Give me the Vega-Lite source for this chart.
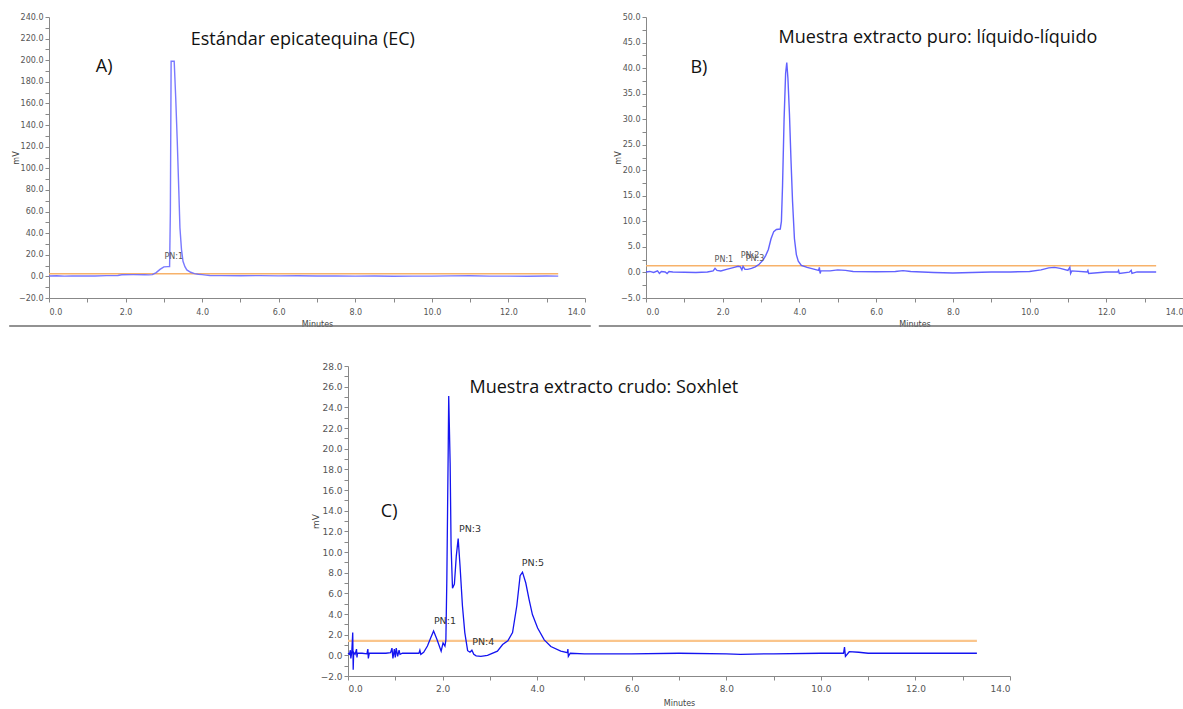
{
  "$schema": "https://vega.github.io/schema/vega-lite/v6.json",
  "background": "white",
  "padding": {"left": 8, "top": 13, "right": 0, "bottom": 0},
  "config": {
    "view": {"stroke": null},
    "axis": {
      "grid": false,
      "domainColor": "#888",
      "tickColor": "#888",
      "tickSize": 4,
      "labelColor": "#555",
      "labelFont": "DejaVu Sans",
      "labelFontSize": 8,
      "labelPadding": 2,
      "labelOverlap": false,
      "titleFont": "DejaVu Sans",
      "titleFontSize": 8,
      "titleFontWeight": "normal",
      "titleColor": "#444"
    }
  },
  "datasets": {
    "traceA": [
      {"t": 0, "v": 0.4}, {"t": 0.2, "v": 0.6}, {"t": 0.4, "v": 0.2}, {"t": 0.6, "v": 0.5}, {"t": 0.8, "v": 0.3},
      {"t": 1.0, "v": 0.5}, {"t": 1.2, "v": 0.4}, {"t": 1.5, "v": 0.7}, {"t": 1.8, "v": 0.8}, {"t": 1.9, "v": 1.5},
      {"t": 2.2, "v": 1.6}, {"t": 2.5, "v": 1.5}, {"t": 2.6, "v": 1.4}, {"t": 2.7, "v": 1.6}, {"t": 2.8, "v": 3.5},
      {"t": 2.9, "v": 6.5}, {"t": 3.0, "v": 8.8}, {"t": 3.1, "v": 9.0}, {"t": 3.15, "v": 9.0}, {"t": 3.17, "v": 60},
      {"t": 3.19, "v": 199}, {"t": 3.27, "v": 199}, {"t": 3.31, "v": 165}, {"t": 3.35, "v": 125}, {"t": 3.39, "v": 80},
      {"t": 3.42, "v": 45}, {"t": 3.46, "v": 25}, {"t": 3.5, "v": 14}, {"t": 3.55, "v": 9}, {"t": 3.6, "v": 6},
      {"t": 3.7, "v": 3.8}, {"t": 3.8, "v": 2.5}, {"t": 3.9, "v": 2.0}, {"t": 4.0, "v": 1.6}, {"t": 4.1, "v": 1.2},
      {"t": 4.2, "v": 0.8}, {"t": 4.5, "v": 0.7}, {"t": 5.0, "v": 0.6}, {"t": 5.5, "v": 0.7}, {"t": 6.0, "v": 0.5},
      {"t": 6.5, "v": 0.6}, {"t": 7.0, "v": 0.4}, {"t": 7.5, "v": 0.5}, {"t": 8.0, "v": 0.2}, {"t": 8.5, "v": 0.3},
      {"t": 9.0, "v": 0.1}, {"t": 9.5, "v": 0.2}, {"t": 10.0, "v": 0.2}, {"t": 10.5, "v": 0.5}, {"t": 11.0, "v": 0.6},
      {"t": 11.5, "v": 0.2}, {"t": 12.0, "v": 0.2}, {"t": 12.5, "v": 0.1}, {"t": 13.0, "v": 0.3}, {"t": 13.3, "v": 0.2}
    ],
    "traceB": [
      {"t": 0, "v": 0.1}, {"t": 0.1, "v": 0.2}, {"t": 0.2, "v": 0.0}, {"t": 0.3, "v": 0.3}, {"t": 0.35, "v": -0.2},
      {"t": 0.4, "v": 0.2}, {"t": 0.5, "v": 0.1}, {"t": 0.55, "v": -0.2}, {"t": 0.6, "v": 0.2}, {"t": 0.7, "v": 0.1},
      {"t": 1.0, "v": 0.05}, {"t": 1.3, "v": 0.0}, {"t": 1.6, "v": 0.1}, {"t": 1.75, "v": 0.3}, {"t": 1.8, "v": 0.8},
      {"t": 1.85, "v": 0.4}, {"t": 1.95, "v": 0.3}, {"t": 2.1, "v": 0.6}, {"t": 2.3, "v": 1.0}, {"t": 2.4, "v": 1.2},
      {"t": 2.46, "v": 1.1}, {"t": 2.5, "v": 0.5}, {"t": 2.53, "v": 1.2}, {"t": 2.58, "v": 0.6}, {"t": 2.65, "v": 0.6},
      {"t": 2.75, "v": 0.8}, {"t": 2.85, "v": 1.1}, {"t": 2.95, "v": 1.6}, {"t": 3.05, "v": 2.4}, {"t": 3.12, "v": 3.3},
      {"t": 3.19, "v": 4.5}, {"t": 3.26, "v": 6.6}, {"t": 3.33, "v": 8.0}, {"t": 3.4, "v": 8.4}, {"t": 3.5, "v": 8.5},
      {"t": 3.53, "v": 10}, {"t": 3.56, "v": 17}, {"t": 3.6, "v": 30}, {"t": 3.64, "v": 39}, {"t": 3.67, "v": 41.1},
      {"t": 3.7, "v": 38}, {"t": 3.74, "v": 31}, {"t": 3.78, "v": 22}, {"t": 3.82, "v": 14}, {"t": 3.87, "v": 6.6},
      {"t": 3.92, "v": 3.5}, {"t": 3.97, "v": 2.2}, {"t": 4.05, "v": 1.4}, {"t": 4.2, "v": 1.0}, {"t": 4.35, "v": 0.7},
      {"t": 4.5, "v": 0.4}, {"t": 4.52, "v": 1.0}, {"t": 4.54, "v": -0.2}, {"t": 4.56, "v": 0.3}, {"t": 4.8, "v": 0.3},
      {"t": 5.0, "v": 0.5}, {"t": 5.2, "v": 0.4}, {"t": 5.4, "v": 0.2}, {"t": 6.0, "v": 0.15}, {"t": 6.5, "v": 0.2},
      {"t": 6.7, "v": 0.35}, {"t": 6.9, "v": 0.2}, {"t": 7.5, "v": 0.0}, {"t": 8.0, "v": -0.1}, {"t": 8.5, "v": 0.0},
      {"t": 9.0, "v": 0.1}, {"t": 9.5, "v": 0.1}, {"t": 10.0, "v": 0.2}, {"t": 10.3, "v": 0.5}, {"t": 10.5, "v": 0.9},
      {"t": 10.65, "v": 1.0}, {"t": 10.8, "v": 0.8}, {"t": 11.0, "v": 0.4}, {"t": 11.05, "v": 1.0}, {"t": 11.07, "v": -0.2},
      {"t": 11.1, "v": 0.3}, {"t": 11.5, "v": 0.1}, {"t": 11.52, "v": 0.4}, {"t": 11.54, "v": -0.2}, {"t": 12.0, "v": 0.1},
      {"t": 12.3, "v": 0.1}, {"t": 12.32, "v": 0.4}, {"t": 12.34, "v": -0.2}, {"t": 12.6, "v": 0.05}, {"t": 12.65, "v": 0.4},
      {"t": 12.67, "v": -0.2}, {"t": 12.8, "v": 0.1}, {"t": 13.3, "v": 0.1}
    ],
    "traceC": [
      {"t": 0, "v": 0.2}, {"t": 0.03, "v": 0.1}, {"t": 0.05, "v": 0.5}, {"t": 0.06, "v": -0.3}, {"t": 0.08, "v": 0.3},
      {"t": 0.1, "v": 2.2}, {"t": 0.11, "v": -1.4}, {"t": 0.12, "v": 0.3}, {"t": 0.15, "v": 0.1}, {"t": 0.18, "v": 0.6},
      {"t": 0.19, "v": -0.2}, {"t": 0.2, "v": 0.2}, {"t": 0.3, "v": 0.2}, {"t": 0.4, "v": 0.15}, {"t": 0.42, "v": 0.6},
      {"t": 0.43, "v": -0.3}, {"t": 0.45, "v": 0.2}, {"t": 0.6, "v": 0.2}, {"t": 0.8, "v": 0.2}, {"t": 0.9, "v": 0.25},
      {"t": 0.93, "v": 0.7}, {"t": 0.95, "v": -0.3}, {"t": 0.98, "v": 0.6}, {"t": 1.0, "v": -0.2}, {"t": 1.02, "v": 0.7},
      {"t": 1.05, "v": -0.1}, {"t": 1.08, "v": 0.5}, {"t": 1.1, "v": 0.1}, {"t": 1.15, "v": 0.2}, {"t": 1.3, "v": 0.2},
      {"t": 1.5, "v": 0.2}, {"t": 1.52, "v": 0.5}, {"t": 1.54, "v": 0.1}, {"t": 1.6, "v": 0.3}, {"t": 1.68, "v": 0.9},
      {"t": 1.75, "v": 1.7}, {"t": 1.81, "v": 2.35}, {"t": 1.88, "v": 1.55}, {"t": 1.97, "v": 0.4}, {"t": 2.01, "v": 1.2},
      {"t": 2.05, "v": 0.9}, {"t": 2.07, "v": 1.5}, {"t": 2.09, "v": 7.3}, {"t": 2.12, "v": 20.2}, {"t": 2.13, "v": 25.1},
      {"t": 2.16, "v": 18.6}, {"t": 2.18, "v": 10.6}, {"t": 2.21, "v": 6.5}, {"t": 2.25, "v": 6.9}, {"t": 2.29, "v": 9.6},
      {"t": 2.33, "v": 11.3}, {"t": 2.37, "v": 8.6}, {"t": 2.42, "v": 4.8}, {"t": 2.47, "v": 2.2}, {"t": 2.53, "v": 0.45},
      {"t": 2.58, "v": 0.3}, {"t": 2.62, "v": 0.5}, {"t": 2.66, "v": 0.1}, {"t": 2.71, "v": -0.05}, {"t": 2.81, "v": -0.1},
      {"t": 2.95, "v": 0.0}, {"t": 3.16, "v": 0.4}, {"t": 3.27, "v": 1.05}, {"t": 3.38, "v": 1.4}, {"t": 3.48, "v": 2.2},
      {"t": 3.57, "v": 4.8}, {"t": 3.64, "v": 7.7}, {"t": 3.69, "v": 8.05}, {"t": 3.76, "v": 7.0}, {"t": 3.83, "v": 5.4},
      {"t": 3.9, "v": 3.95}, {"t": 4.01, "v": 2.65}, {"t": 4.15, "v": 1.5}, {"t": 4.29, "v": 0.85}, {"t": 4.5, "v": 0.4},
      {"t": 4.64, "v": 0.25}, {"t": 4.65, "v": 0.6}, {"t": 4.66, "v": -0.1}, {"t": 4.7, "v": 0.2}, {"t": 5.0, "v": 0.15},
      {"t": 6.0, "v": 0.15}, {"t": 7.0, "v": 0.2}, {"t": 8.0, "v": 0.15}, {"t": 8.3, "v": 0.1}, {"t": 9.0, "v": 0.15},
      {"t": 10.0, "v": 0.2}, {"t": 10.48, "v": 0.2}, {"t": 10.5, "v": 0.8}, {"t": 10.52, "v": -0.1}, {"t": 10.6, "v": 0.35},
      {"t": 10.8, "v": 0.3}, {"t": 11.0, "v": 0.2}, {"t": 12.0, "v": 0.2}, {"t": 13.0, "v": 0.2}, {"t": 13.3, "v": 0.2}
    ]
  },
  "spacing": 34,
  "bounds": "full",
  "vconcat": [
    {
      "spacing": 61,
      "bounds": "flush",
      "hconcat": [
        {
          "width": 536,
          "height": 281,
          "encoding": {
            "x": {"field": "t", "type": "quantitative", "scale": {"domain": [0, 14], "nice": false, "zero": false},
              "axis": {"title": "Minutes", "values": [0,1,2,3,4,5,6,7,8,9,10,11,12,13,14], "labelExpr": "datum.value % 2 == 0 ? format(datum.value, '.1f') : ''", "labelFlush": true, "labelPadding": 6, "titlePadding": 4}},
            "y": {"field": "v", "type": "quantitative", "scale": {"domain": [-20, 240], "nice": false, "zero": false},
              "axis": {"title": "mV", "values": [-20,-10,0,10,20,30,40,50,60,70,80,90,100,110,120,130,140,150,160,170,180,190,200,210,220,230,240], "labelExpr": "datum.value % 20 == 0 ? format(datum.value, '.1f') : ''", "titlePadding": -2}}
          },
          "layer": [
            {"data": {"values": [{"t0": -1.04, "t1": 14.15, "v": -45.8}]}, "mark": {"type": "rule", "color": "#6e6e6e", "strokeWidth": 1.5, "clip": false},
              "encoding": {"x": {"field": "t0", "type": "quantitative"}, "x2": {"field": "t1"}, "y": {"field": "v", "type": "quantitative"}}},
            {"data": {"values": [{"t0": 0, "t1": 13.3, "v": 2.5}]}, "mark": {"type": "rule", "color": "#f7b26a", "strokeWidth": 1.5},
              "encoding": {"x": {"field": "t0", "type": "quantitative"}, "x2": {"field": "t1"}, "y": {"field": "v", "type": "quantitative"}}},
            {"data": {"name": "traceA"}, "mark": {"type": "line", "color": "#6a6aff", "strokeWidth": 1.4, "opacity": 0.9}},
            {"data": {"values": [{"t": 3.26, "v": 18.2, "label": "PN:1"}]}, "mark": {"type": "text", "font": "DejaVu Sans", "fontSize": 8, "color": "#555"},
              "encoding": {"text": {"field": "label"}}},
            {"data": {"values": [{"t": 6.63, "v": 219, "label": "Estándar epicatequina (EC)"}, {"t": 1.44, "v": 194, "label": "A)"}]}, "mark": {"type": "text", "font": "Open Sans", "fontSize": 18, "color": "#111"},
              "encoding": {"text": {"field": "label"}}}
          ]
        },
        {
          "width": 537,
          "height": 281,
          "encoding": {
            "x": {"field": "t", "type": "quantitative", "scale": {"domain": [0, 14], "nice": false, "zero": false},
              "axis": {"title": "Minutes", "values": [0,1,2,3,4,5,6,7,8,9,10,11,12,13,14], "labelExpr": "datum.value % 2 == 0 ? format(datum.value, '.1f') : ''", "labelFlush": true, "labelPadding": 6, "titlePadding": 4}},
            "y": {"field": "v", "type": "quantitative", "scale": {"domain": [-5, 50], "nice": false, "zero": false},
              "axis": {"title": "mV", "values": [-5,-2.5,0,2.5,5,7.5,10,12.5,15,17.5,20,22.5,25,27.5,30,32.5,35,37.5,40,42.5,45,47.5,50], "labelExpr": "datum.value % 5 == 0 ? format(datum.value, '.1f') : ''", "titlePadding": -2}}
          },
          "layer": [
            {"data": {"values": [{"t0": -1.23, "t1": 14.1, "v": -10.5}]}, "mark": {"type": "rule", "color": "#6e6e6e", "strokeWidth": 1.5, "clip": false},
              "encoding": {"x": {"field": "t0", "type": "quantitative"}, "x2": {"field": "t1"}, "y": {"field": "v", "type": "quantitative"}}},
            {"data": {"values": [{"t0": 0, "t1": 13.3, "v": 1.3}]}, "mark": {"type": "rule", "color": "#f7b26a", "strokeWidth": 1.5},
              "encoding": {"x": {"field": "t0", "type": "quantitative"}, "x2": {"field": "t1"}, "y": {"field": "v", "type": "quantitative"}}},
            {"data": {"name": "traceB"}, "mark": {"type": "line", "color": "#5050ff", "strokeWidth": 1.4, "opacity": 0.9}},
            {"data": {"values": [{"t": 2.03, "v": 2.45, "label": "PN:1"}, {"t": 2.71, "v": 3.24, "label": "PN:2"}, {"t": 2.84, "v": 2.65, "label": "PN:3"}]}, "mark": {"type": "text", "font": "DejaVu Sans", "fontSize": 8, "color": "#555"},
              "encoding": {"text": {"field": "label"}}},
            {"data": {"values": [{"t": 7.61, "v": 45.9, "label": "Muestra extracto puro: líquido-líquido"}, {"t": 1.38, "v": 40.0, "label": "B)"}]}, "mark": {"type": "text", "font": "Open Sans", "fontSize": 18, "color": "#111"},
              "encoding": {"text": {"field": "label"}}}
          ]
        }
      ]
    },
    {
      "spacing": 0,
      "bounds": "flush",
      "hconcat": [
        {
          "width": 299,
          "height": 310,
          "data": {"values": [{"t": 0}]},
          "mark": {"type": "point", "opacity": 0, "size": 0},
          "encoding": {"x": {"field": "t", "type": "quantitative", "scale": {"domain": [0, 1]}, "axis": null}}
        },
        {
          "width": 662,
          "height": 310,
          "encoding": {
            "x": {"field": "t", "type": "quantitative", "scale": {"domain": [0, 14], "nice": false, "zero": false},
              "axis": {"title": "Minutes", "values": [0,1,2,3,4,5,6,7,8,9,10,11,12,13,14], "labelExpr": "datum.value % 2 == 0 ? format(datum.value, '.1f') : ''", "labelFlush": true, "labelFontSize": 9, "labelPadding": 4, "titlePadding": 6}},
            "y": {"field": "v", "type": "quantitative", "scale": {"domain": [-2, 28], "nice": false, "zero": false},
              "axis": {"title": "mV", "values": [-2,-1,0,1,2,3,4,5,6,7,8,9,10,11,12,13,14,15,16,17,18,19,20,21,22,23,24,25,26,27,28], "labelExpr": "datum.value % 2 == 0 ? format(datum.value, '.1f') : ''", "labelFontSize": 9, "titleFontSize": 9, "titlePadding": 0}}
          },
          "layer": [
            {"data": {"values": [{"t0": 0, "t1": 13.3, "v": 1.4}]}, "mark": {"type": "rule", "color": "#fac58c", "strokeWidth": 2.2},
              "encoding": {"x": {"field": "t0", "type": "quantitative"}, "x2": {"field": "t1"}, "y": {"field": "v", "type": "quantitative"}}},
            {"data": {"name": "traceC"}, "mark": {"type": "line", "color": "#1414f0", "strokeWidth": 1.3}},
            {"data": {"values": [{"t": 2.05, "v": 3.3, "label": "PN:1"}, {"t": 2.58, "v": 12.2, "label": "PN:3"}, {"t": 2.86, "v": 1.3, "label": "PN:4"}, {"t": 3.91, "v": 8.97, "label": "PN:5"}]}, "mark": {"type": "text", "font": "DejaVu Sans", "fontSize": 9.5, "color": "#333"},
              "encoding": {"text": {"field": "label"}}},
            {"data": {"values": [{"t": 5.41, "v": 25.85, "label": "Muestra extracto crudo: Soxhlet"}, {"t": 0.87, "v": 13.9, "label": "C)"}]}, "mark": {"type": "text", "font": "Open Sans", "fontSize": 18, "color": "#111"},
              "encoding": {"text": {"field": "label"}}}
          ]
        }
      ]
    }
  ]
}
